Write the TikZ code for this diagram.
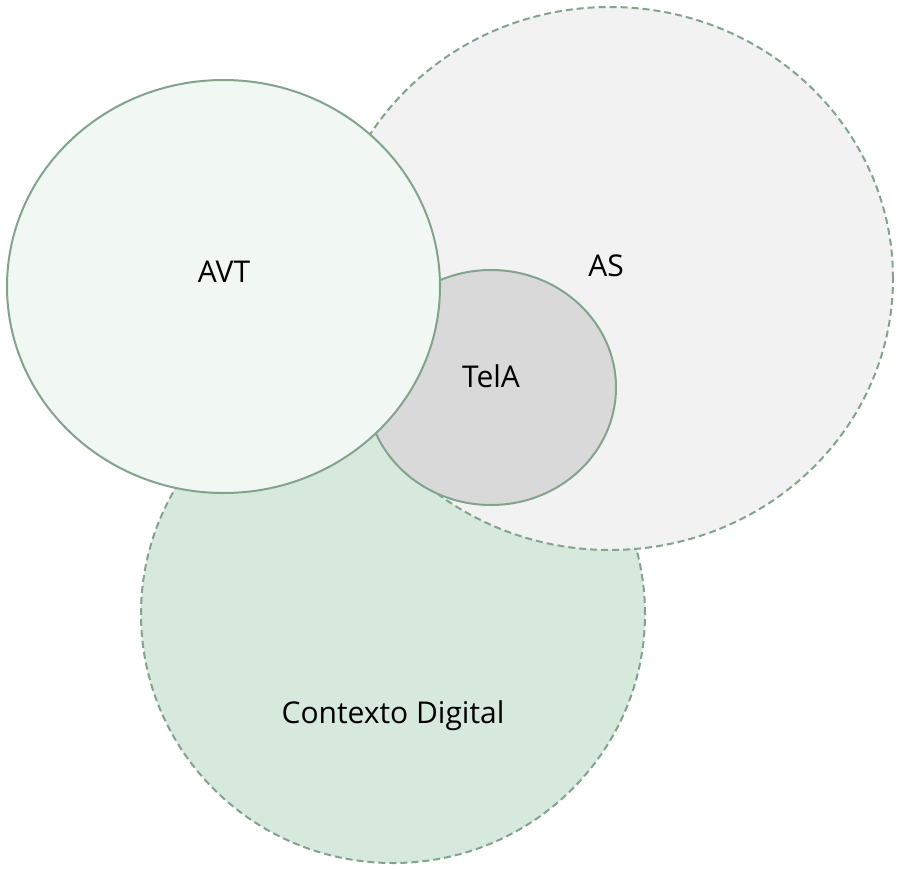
\documentclass[tikz,border=0pt]{standalone}
\usepackage{fontspec}
\setmainfont{Open Sans}
\usetikzlibrary{positioning}
\definecolor{colline}{RGB}{130,163,140}
\definecolor{colas}{RGB}{242,242,242}
\definecolor{colctx}{RGB}{214,233,220}
\definecolor{colavt}{RGB}{241,247,243}
\definecolor{coltela}{RGB}{217,217,217}
\tikzset{%
     outline/.style = { draw=colline, line width=2pt },
      dashln/.style = { outline, dash pattern=on 7pt off 4pt },
       label/.style = { black, font=\fontsize{30}{36}\selectfont, inner sep=0pt }
}
\begin{document}
\begin{tikzpicture}[x=1pt,y=-1pt]
  \useasboundingbox (0,0) rectangle (897,868);

  \draw[dashln, fill=colctx] (393,614) ellipse [x radius=252pt, y radius=249pt];
  \draw[dashln, fill=colas]  (610,278.5) ellipse [x radius=283pt, y radius=271.5pt];
  \draw[outline, fill=coltela] (491,387.5) ellipse [x radius=125pt, y radius=117.5pt];
  \draw[outline, fill=colavt]  (223.5,286.5) ellipse [x radius=216.5pt, y radius=206.5pt];

  \node[label] (avt)  at (224,272) {AVT};
  \node[label] (as)   at (606,266) {AS};
  \node[label] (tela) at (491,376) {TelA};
  \node[label] (ctx)  at (393,716) {Contexto Digital};

\end{tikzpicture}
\end{document}
